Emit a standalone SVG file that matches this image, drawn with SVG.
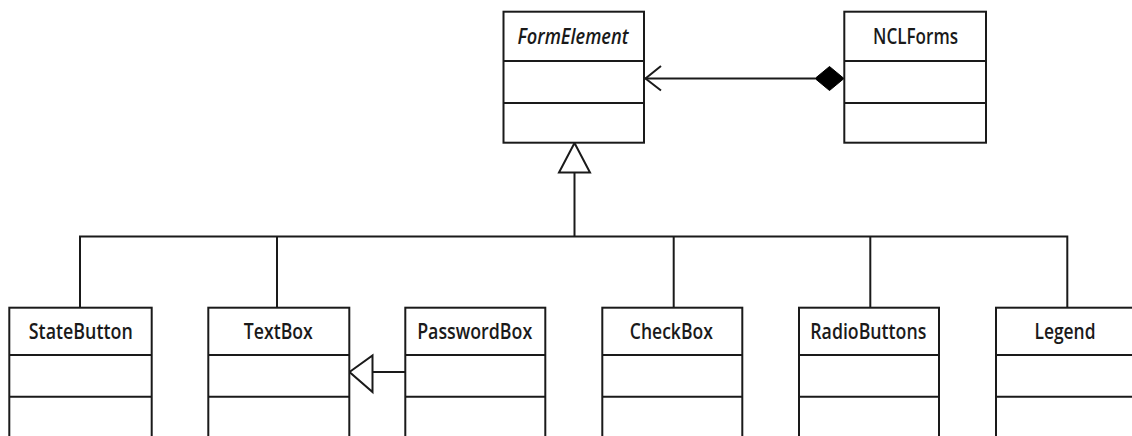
<svg xmlns="http://www.w3.org/2000/svg" width="1132" height="436" viewBox="0 0 1132 436">
<style>
.box{fill:#fff;stroke:#1a1a1a;stroke-width:2}
.sep{stroke:#1a1a1a;stroke-width:2}
.ln{fill:none;stroke:#1a1a1a;stroke-width:2}
.lbl{font-family:"Open Sans","Liberation Sans",sans-serif;font-weight:600;font-size:21px;fill:#1a1a1a;text-anchor:middle}
.it{font-style:italic}
</style>
<rect width="1132" height="436" fill="#fff"/>
<g id="connectors">
  <path class="ln" d="M645 78.5 H815"/>
  <path class="ln" d="M661 66 L645.5 78.5 L661 90.5"/>
  <path d="M815 78.5 L829.5 66.5 L844 78.5 L829.5 90.5 Z" fill="#000" stroke="#000" stroke-width="1"/>
  <path class="ln" d="M574.5 143 L559 172.5 L590 172.5 Z" fill="#fff"/>
  <path class="ln" d="M574.5 172.5 V236.5"/>
  <path class="ln" d="M80 307.7 V236.5 H1067.3 V307.7"/>
  <path class="ln" d="M277 236.5 V307.7"/>
  <path class="ln" d="M673.7 236.5 V307.7"/>
  <path class="ln" d="M870.3 236.5 V307.7"/>
  <path class="ln" d="M349.5 372 L372.5 355.5 L372.5 392 Z" fill="#fff"/>
  <path class="ln" d="M372.5 372 H405.3"/>
</g>
<g id="FormElement">
  <rect class="box" x="503.5" y="11.7" width="140.5" height="131"/>
  <line class="sep" x1="503.5" y1="61" x2="644" y2="61"/>
  <line class="sep" x1="503.5" y1="103" x2="644" y2="103"/>
  <text class="lbl it" x="573" y="43.5" textLength="111" lengthAdjust="spacingAndGlyphs">FormElement</text>
</g>
<g id="NCLForms">
  <rect class="box" x="844.3" y="11.7" width="141.7" height="131"/>
  <line class="sep" x1="844.3" y1="61" x2="986" y2="61"/>
  <line class="sep" x1="844.3" y1="103" x2="986" y2="103"/>
  <text class="lbl" x="915.5" y="43.5" textLength="85" lengthAdjust="spacingAndGlyphs">NCLForms</text>
</g>
<g id="StateButton">
  <rect class="box" x="9.3" y="307.7" width="142.4" height="150"/>
  <line class="sep" x1="9.3" y1="355" x2="151.7" y2="355"/>
  <line class="sep" x1="9.3" y1="396.7" x2="151.7" y2="396.7"/>
  <text class="lbl" x="80.8" y="339" textLength="104" lengthAdjust="spacingAndGlyphs">StateButton</text>
</g>
<g id="TextBox">
  <rect class="box" x="208.3" y="307.7" width="141" height="150"/>
  <line class="sep" x1="208.3" y1="355" x2="349.3" y2="355"/>
  <line class="sep" x1="208.3" y1="396.7" x2="349.3" y2="396.7"/>
  <text class="lbl" x="278.3" y="339" textLength="69" lengthAdjust="spacingAndGlyphs">TextBox</text>
</g>
<g id="PasswordBox">
  <rect class="box" x="405.3" y="307.7" width="140" height="150"/>
  <line class="sep" x1="405.3" y1="355" x2="545.3" y2="355"/>
  <line class="sep" x1="405.3" y1="396.7" x2="545.3" y2="396.7"/>
  <text class="lbl" x="474.7" y="339" textLength="115" lengthAdjust="spacingAndGlyphs">PasswordBox</text>
</g>
<g id="CheckBox">
  <rect class="box" x="602.3" y="307.7" width="140" height="150"/>
  <line class="sep" x1="602.3" y1="355" x2="742.3" y2="355"/>
  <line class="sep" x1="602.3" y1="396.7" x2="742.3" y2="396.7"/>
  <text class="lbl" x="671.3" y="339" textLength="83" lengthAdjust="spacingAndGlyphs">CheckBox</text>
</g>
<g id="RadioButtons">
  <rect class="box" x="799" y="307.7" width="140" height="150"/>
  <line class="sep" x1="799" y1="355" x2="939" y2="355"/>
  <line class="sep" x1="799" y1="396.7" x2="939" y2="396.7"/>
  <text class="lbl" x="868.3" y="339" textLength="116" lengthAdjust="spacingAndGlyphs">RadioButtons</text>
</g>
<g id="Legend">
  <rect class="box" x="996" y="307.7" width="142" height="150"/>
  <line class="sep" x1="996" y1="355" x2="1138" y2="355"/>
  <line class="sep" x1="996" y1="396.7" x2="1138" y2="396.7"/>
  <text class="lbl" x="1065" y="339" textLength="61" lengthAdjust="spacingAndGlyphs">Legend</text>
</g>
</svg>
